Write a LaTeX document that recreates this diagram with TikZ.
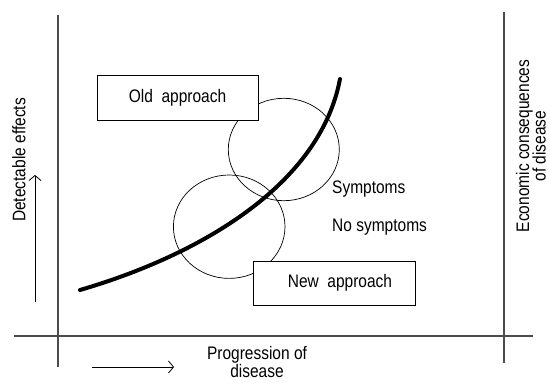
\documentclass[tikz,border=0pt]{standalone}
\usepackage{fontspec}
\setmainfont{Liberation Sans}
\usetikzlibrary{arrows.meta}
\newcommand\tallt[1]{\scalebox{1}[1.17]{#1}}
\begin{document}
\begin{tikzpicture}[x=1pt,y=-1pt,
  axisline/.style={draw=black!70,line width=1.3pt},
  approachbox/.style={draw=black,line width=0.8pt,fill=white,minimum width=161pt,minimum height=45pt,inner sep=0pt},
  ring/.style={draw=black,line width=0.7pt},
  lbl/.style={font=\fontsize{15.5}{18}\selectfont,inner sep=0pt},
  dirarrow/.style={draw=black,line width=0.8pt,-{Straight Barb[length=5pt,width=12pt]}}]
\useasboundingbox (0,0) rectangle (550,385);
% axes
\coordinate (lt) at (58,15);
\coordinate (lb) at (58,367);
\coordinate (rt) at (504,12);
\coordinate (rb) at (504,363);
\coordinate (hl) at (14,336);
\coordinate (hr) at (533,336);
\draw[axisline] (lt) -- (lb);
\draw[axisline] (rt) -- (rb);
\draw[axisline] (hl) -- (hr);
% circles
\draw[ring] (283.8,149.5) ellipse [x radius=55.5, y radius=51.2];
\draw[ring] (229.2,226.7) ellipse [x radius=55.8, y radius=51.7];
% boxes
\node[approachbox] (old) at (177.5,97.5) {};
\node[lbl] (oldt) at (177.5,97.5) {\tallt{Old\ \ approach}};
\node[approachbox,minimum width=162pt,minimum height=44pt] (new) at (334,283) {};
\node[lbl] (newt) at (340,283) {\tallt{New\ \ approach}};
% curve
\coordinate (c0) at (80,290);
\coordinate (c1) at (340,79);
\draw[line width=4pt,line cap=round] (c0) .. controls (200,255) and (320,185) .. (c1);
% labels
\node[lbl,anchor=west] (sym) at (332,189) {\tallt{Symptoms}};
\node[lbl,anchor=west] (nosym) at (332,227) {\tallt{No symptoms}};
\node[lbl,rotate=90] (det) at (19,160) {\tallt{Detectable effects}};
\node[lbl,rotate=90,align=center] (econ) at (531,146) {\tallt{Economic consequences}\\[-1.5pt]\tallt{of disease}};
\node[lbl,align=center] (prog) at (257,362) {\tallt{Progression of}\\[0.5pt]\tallt{disease}};
% arrows
\coordinate (va0) at (35,302);
\coordinate (va1) at (35,175);
\coordinate (ha0) at (92,367);
\coordinate (ha1) at (174,367);
\draw[dirarrow] (va0) -- (va1);
\draw[dirarrow] (ha0) -- (ha1);
\end{tikzpicture}
\end{document}
